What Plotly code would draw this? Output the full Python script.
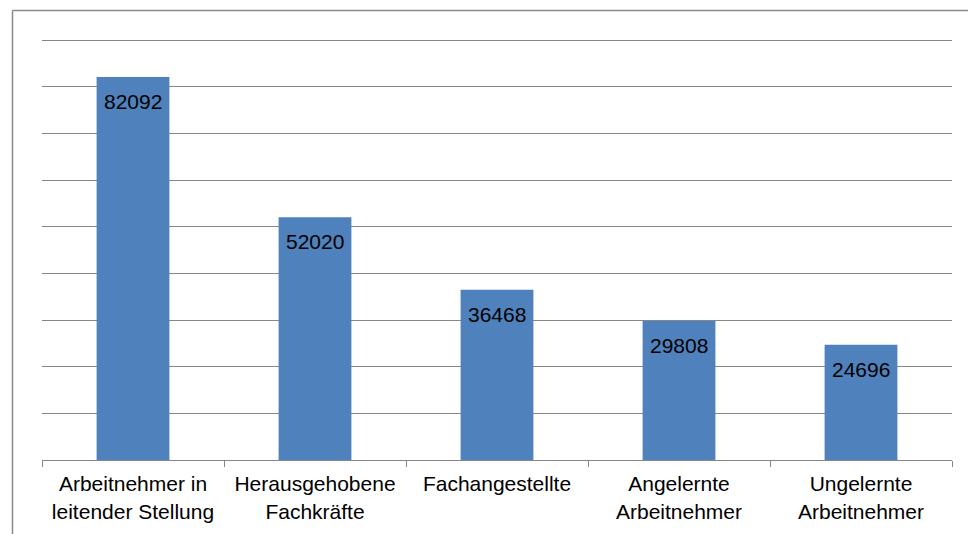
import plotly.graph_objects as go

categories = ["Arbeitnehmer in<br>leitender Stellung", "Herausgehobene<br>Fachkräfte",
              "Fachangestellte", "Angelernte<br>Arbeitnehmer", "Ungelernte<br>Arbeitnehmer"]
values = [82092, 52020, 36468, 29808, 24696]
y_max = 90000
y_step = 10000

# page body has an 8px margin; compensate so the plot lands where the reference has it
OFF = 8
EXTRA = 3  # px of headroom above the top gridline so it gets drawn
W, H = 976 - OFF, 534 - OFF
L, R, T, B = 42 - OFF, 24, 40 - OFF - EXTRA, 74
pw, ph = W - L - R, H - T - B
y_top = y_max * ph / (ph - EXTRA)

def px_x(p):
    return (p - OFF - L) / pw

def px_y(p):
    return (H - B - (p - OFF)) / ph

fig = go.Figure(go.Bar(
    x=categories, y=values, width=0.4,
    marker=dict(color="#4F81BD", line=dict(width=0)),
    hoverinfo="skip",
))

for c, v in zip(categories, values):
    fig.add_annotation(x=c, y=v, text=str(v), showarrow=False, yanchor="top",
                       yshift=-11, font=dict(size=21, color="#000000",
                                             family="Liberation Sans, Arial, sans-serif"))

grid = "#878787"
fig.update_layout(
    width=W, height=H,
    margin=dict(l=L, r=R, t=T, b=B),
    paper_bgcolor="white", plot_bgcolor="white",
    showlegend=False,
    font=dict(family="Liberation Sans, Arial, sans-serif", size=21, color="#000000"),
    xaxis=dict(showline=True, linecolor=grid, linewidth=1, ticks="outside",
               tickson="boundaries", ticklen=6, tickcolor=grid, showgrid=False,
               tickfont=dict(size=21), ticklabelstandoff=5),
    yaxis=dict(range=[0, y_top], tick0=0, dtick=y_step, showgrid=True, gridcolor=grid,
               gridwidth=1, showticklabels=False, zeroline=False, ticks=""),
    shapes=[
        dict(type="line", xref="paper", yref="paper", x0=px_x(12.5), x1=px_x(990),
             y0=px_y(10.5), y1=px_y(10.5), line=dict(color="#8a8a8a", width=1.5)),
        dict(type="line", xref="paper", yref="paper", x0=px_x(12.5), x1=px_x(12.5),
             y0=px_y(10.5), y1=px_y(560), line=dict(color="#8a8a8a", width=1.5)),
    ],
)

fig.write_html("out.html")
